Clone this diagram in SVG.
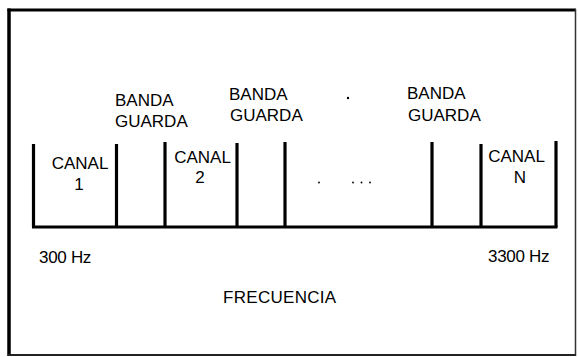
<svg xmlns="http://www.w3.org/2000/svg" width="578" height="357" viewBox="0 0 578 357">
<style>
text{font-family:"Liberation Sans",Arial,sans-serif;font-size:17px;fill:#000}
.bar{stroke:#000;stroke-width:3.2;fill:none}
.dot{fill:#000}
</style>
<rect x="0" y="0" width="578" height="357" fill="#fff"/>
<g id="frame">
<line x1="9" y1="8.5" x2="9" y2="356" stroke="#000" stroke-width="3.5"/>
<line x1="7.5" y1="10" x2="576" y2="10" stroke="#000" stroke-width="3"/>
<line x1="575.5" y1="9" x2="575.5" y2="356" stroke="#333" stroke-width="1.5"/>
<line x1="8" y1="355" x2="576" y2="355" stroke="#222" stroke-width="2"/>
</g>
<g id="connectors">
<line class="bar" x1="32" y1="227" x2="557.5" y2="227" stroke-width="3.8"/>
<line class="bar" x1="33.5" y1="144" x2="33.5" y2="227"/>
<line class="bar" x1="116.5" y1="144" x2="116.5" y2="227"/>
<line class="bar" x1="165" y1="142" x2="165" y2="227"/>
<line class="bar" x1="237" y1="143" x2="237" y2="227"/>
<line class="bar" x1="285" y1="142" x2="285" y2="227"/>
<line class="bar" x1="432" y1="142" x2="432" y2="227"/>
<line class="bar" x1="481" y1="144" x2="481" y2="227"/>
<line class="bar" x1="556" y1="141" x2="556" y2="227"/>
</g>
<g id="canal1">
<text x="80" y="169" text-anchor="middle">CANAL</text>
<text x="79" y="190" text-anchor="middle">1</text>
</g>
<g id="canal2">
<text x="202.5" y="163" text-anchor="middle">CANAL</text>
<text x="200" y="183" text-anchor="middle">2</text>
</g>
<g id="canalN">
<text x="516.5" y="162" text-anchor="middle">CANAL</text>
<text x="520" y="183" text-anchor="middle">N</text>
</g>
<g id="banda1">
<text x="115" y="106">BANDA</text>
<text x="115" y="127">GUARDA</text>
</g>
<g id="banda2">
<text x="229" y="100">BANDA</text>
<text x="230" y="121">GUARDA</text>
</g>
<g id="banda3">
<text x="407" y="99">BANDA</text>
<text x="408" y="121">GUARDA</text>
</g>
<g id="dots">
<circle class="dot" cx="348" cy="98" r="1.2"/>
<circle class="dot" cx="319" cy="182.5" r="0.9"/>
<circle class="dot" cx="353" cy="182.5" r="0.9"/>
<circle class="dot" cx="361.5" cy="182.5" r="0.9"/>
<circle class="dot" cx="370" cy="182.5" r="0.9"/>
</g>
<g id="labels">
<text x="39" y="263" letter-spacing="-0.3">300 Hz</text>
<text x="488" y="262" letter-spacing="-0.3">3300 Hz</text>
<text x="223" y="303" letter-spacing="0.3">FRECUENCIA</text>
</g>
</svg>
